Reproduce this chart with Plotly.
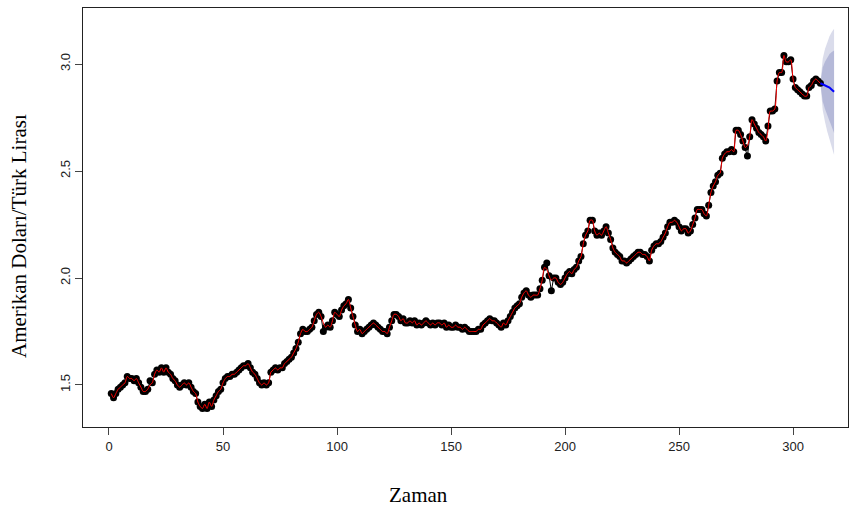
import plotly.graph_objects as go

# observed series, t = 1..312
values = [
    1.46, 1.44, 1.46, 1.48, 1.49, 1.50, 1.51, 1.54, 1.53, 1.53,
    1.52, 1.53, 1.51, 1.49, 1.47, 1.47, 1.48, 1.52, 1.51, 1.55,
    1.57, 1.56, 1.58, 1.56, 1.58, 1.56, 1.55, 1.53, 1.52, 1.50,
    1.49, 1.50, 1.51, 1.50, 1.51, 1.49, 1.47, 1.46, 1.42, 1.40,
    1.39, 1.41, 1.39, 1.42, 1.40, 1.43, 1.45, 1.47, 1.48, 1.51,
    1.53, 1.54, 1.54, 1.55, 1.55, 1.56, 1.57, 1.58, 1.59, 1.59,
    1.60, 1.58, 1.56, 1.55, 1.53, 1.51, 1.50, 1.51, 1.50, 1.51,
    1.56, 1.57, 1.58, 1.57, 1.58, 1.58, 1.60, 1.61, 1.62, 1.63,
    1.65, 1.67, 1.70, 1.74, 1.76, 1.75, 1.75, 1.76, 1.77, 1.80,
    1.83, 1.84, 1.82, 1.75, 1.77, 1.78, 1.77, 1.80, 1.84, 1.83,
    1.82, 1.85, 1.87, 1.88, 1.90, 1.86, 1.82, 1.78, 1.75, 1.76,
    1.74, 1.75, 1.76, 1.77, 1.78, 1.79, 1.78, 1.77, 1.76, 1.75,
    1.75, 1.74, 1.77, 1.80, 1.83, 1.83, 1.82, 1.80, 1.81, 1.79,
    1.79, 1.80, 1.79, 1.80, 1.78, 1.79, 1.78, 1.79, 1.80, 1.79,
    1.78, 1.79, 1.78, 1.79, 1.79, 1.78, 1.79, 1.77, 1.78, 1.77,
    1.77, 1.78, 1.77, 1.77, 1.76, 1.77, 1.76, 1.75, 1.75, 1.75,
    1.75, 1.76, 1.76, 1.78, 1.79, 1.80, 1.81, 1.80, 1.80, 1.79,
    1.78, 1.77, 1.79, 1.78, 1.80, 1.82, 1.84, 1.86, 1.87, 1.88,
    1.91, 1.93, 1.94, 1.92, 1.91, 1.92, 1.92, 1.92, 1.95, 1.99,
    2.05, 2.07, 2.01, 1.94, 2.00, 2.00, 1.98, 1.97, 1.98, 2.00,
    2.02, 2.03, 2.02, 2.04, 2.05, 2.08, 2.10, 2.16, 2.20, 2.22,
    2.27, 2.27, 2.22, 2.20, 2.21, 2.20, 2.22, 2.24, 2.21, 2.18,
    2.14, 2.12, 2.11, 2.10, 2.08, 2.08, 2.07, 2.08, 2.09, 2.10,
    2.11, 2.12, 2.12, 2.11, 2.11, 2.10, 2.08, 2.13, 2.15, 2.16,
    2.16, 2.17, 2.19, 2.21, 2.24, 2.26, 2.26, 2.27, 2.26, 2.24,
    2.22, 2.23, 2.23, 2.21, 2.22, 2.25, 2.28, 2.32, 2.32, 2.32,
    2.30, 2.29, 2.34, 2.40, 2.43, 2.45, 2.48, 2.49, 2.56, 2.58,
    2.59, 2.59, 2.60, 2.59, 2.69, 2.69, 2.67, 2.64, 2.61, 2.57,
    2.66, 2.74, 2.72, 2.70, 2.68, 2.67, 2.66, 2.64, 2.71, 2.78,
    2.78, 2.79, 2.92, 2.96, 2.96, 3.04, 3.01, 3.01, 3.02, 2.93,
    2.89, 2.88, 2.87, 2.86, 2.85, 2.85, 2.89, 2.90, 2.92, 2.93,
    2.92, 2.91,
]
time = list(range(1, len(values) + 1))

# fitted values (red line) – follows the series, pulled in at the outliers
fitted = list(values)
for t_, v_ in {18: 1.50, 94: 1.79, 192: 2.04, 194: 1.99, 280: 2.62, 289: 2.69}.items():
    fitted[t_ - 1] = v_

# forecast (anchored on the last observation)
fc_time = [312, 313, 314, 315, 316, 317, 318]
fc_mean = [2.91, 2.905, 2.90, 2.895, 2.89, 2.88, 2.87]
lo80 = [2.91, 2.826, 2.79, 2.758, 2.733, 2.704, 2.677]
hi80 = [2.91, 2.984, 3.01, 3.032, 3.047, 3.056, 3.063]
lo95 = [2.91, 2.785, 2.73, 2.685, 2.65, 2.61, 2.575]
hi95 = [2.91, 3.025, 3.07, 3.105, 3.13, 3.15, 3.165]

x_ticks = [0, 50, 100, 150, 200, 250, 300]
y_ticks = [1.5, 2.0, 2.5, 3.0]
y_tick_text = ["1.5", "2.0", "2.5", "3.0"]

W, H = 849, 511
L, R, T, B = 83, 1, 8, 84
PW, PH = W - L - R, H - T - B


def px_to_paper(px, py):
    return (px - L) / PW, (H - py - B) / PH


fig = go.Figure()

fig.add_trace(go.Scatter(
    x=fc_time + fc_time[::-1], y=hi95 + lo95[::-1], fill="toself",
    fillcolor="#DADCEB", line=dict(width=0), mode="lines", hoverinfo="skip"))
fig.add_trace(go.Scatter(
    x=fc_time + fc_time[::-1], y=hi80 + lo80[::-1], fill="toself",
    fillcolor="#B5B9D8", line=dict(width=0), mode="lines", hoverinfo="skip"))

fig.add_trace(go.Scatter(
    x=time, y=values, mode="lines+markers",
    line=dict(color="black", width=1),
    marker=dict(color="black", size=7)))
fig.add_trace(go.Scatter(
    x=time, y=fitted, mode="lines",
    line=dict(color="#FF0000", width=1, shape="spline", smoothing=0.8)))
fig.add_trace(go.Scatter(
    x=fc_time, y=fc_mean, mode="lines",
    line=dict(color="#0000FF", width=2)))

xt, yt = px_to_paper(418, 495)
xy, yy = px_to_paper(19, 236)

fig.update_layout(
    width=W, height=H,
    margin=dict(l=L, r=R, t=T, b=B),
    paper_bgcolor="white", plot_bgcolor="white",
    showlegend=False,
    xaxis=dict(range=[-11.4, 324.1], tickvals=x_ticks, ticks="outside",
               ticklen=7, tickcolor="#444", showgrid=False, zeroline=False,
               showline=True, linecolor="#222", linewidth=1, mirror=True,
               tickfont=dict(family="Liberation Sans", size=13, color="#222")),
    yaxis=dict(range=[1.3037, 3.2617], tickvals=y_ticks, ticktext=y_tick_text,
               ticks="outside", ticklen=7, tickcolor="#444", tickangle=-90,
               showgrid=False, zeroline=False,
               showline=True, linecolor="#222", linewidth=1, mirror=True,
               tickfont=dict(family="Liberation Sans", size=13, color="#222")),
    annotations=[
        dict(text="Zaman", x=xt, y=yt, xref="paper", yref="paper",
             xanchor="center", yanchor="middle", showarrow=False,
             font=dict(family="Liberation Serif", size=21, color="black")),
        dict(text="Amerikan Doları/Türk Lirası", x=xy, y=yy,
             xref="paper", yref="paper", xanchor="center", yanchor="middle",
             showarrow=False, textangle=-90,
             font=dict(family="Liberation Serif", size=21, color="black")),
    ],
)

fig.write_html("out.html")
